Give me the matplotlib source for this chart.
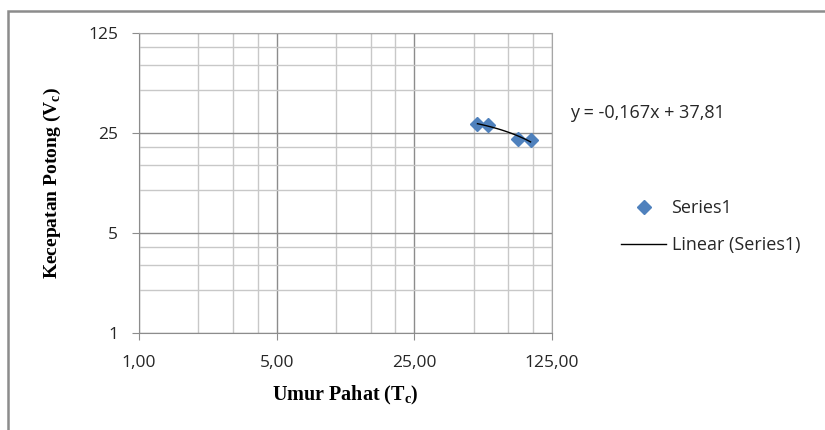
import numpy as np
import matplotlib
matplotlib.use('Agg')
import matplotlib.pyplot as plt
from matplotlib.ticker import LogLocator, FixedLocator, NullFormatter
from matplotlib.lines import Line2D
from matplotlib.patches import Rectangle

# data
umur_pahat = [52.3, 59.3, 84.2, 97.3]
kecepatan = [28.8, 28.6, 22.6, 22.4]
x_ticks = [1, 5, 25, 125]
x_tick_labels = ['1,00', '5,00', '25,00', '125,00']
y_ticks = [1, 5, 25, 125]
y_tick_labels = ['1', '5', '25', '125']
persamaan = 'y = -0,167x + 37,81'

plt.rcParams['font.family'] = ['Open Sans', 'DejaVu Sans']

fig = plt.figure(figsize=(8.25, 4.3), dpi=100)
W, H = 825, 430
ax = fig.add_axes([139 / W, 1 - 333 / H, 413 / W, 300 / H])

ax.set_xscale('log', base=5)
ax.set_yscale('log', base=5)
ax.set_xlim(1, 125)
ax.set_ylim(1, 125)

ax.xaxis.set_major_locator(FixedLocator(x_ticks))
ax.yaxis.set_major_locator(FixedLocator(y_ticks))
ax.set_xticklabels(x_tick_labels)
ax.set_yticklabels(y_tick_labels)
ax.xaxis.set_minor_locator(LogLocator(base=5, subs=[2, 3, 4]))
ax.yaxis.set_minor_locator(LogLocator(base=5, subs=[2, 3, 4]))
ax.xaxis.set_minor_formatter(NullFormatter())
ax.yaxis.set_minor_formatter(NullFormatter())

ax.grid(True, which='major', color='#8c8c8c', lw=1.0)
ax.grid(True, which='minor', color='#c8c8c8', lw=1.0)
ax.set_axisbelow(True)

for s in ['top', 'right']:
    ax.spines[s].set_color('#a6a6a6')
for s in ['left', 'bottom']:
    ax.spines[s].set_color('#8c8c8c')
ax.tick_params(which='major', direction='out', length=5, color='#8c8c8c',
               labelsize=12.5, labelcolor='#262626')
ax.tick_params(axis='y', which='major', pad=10)
ax.tick_params(axis='x', which='major', pad=11)
ax.tick_params(which='minor', length=0)

# data points
ax.plot(umur_pahat, kecepatan, 'D', color='#4f81bd', ms=7.5, mec='#4f81bd', zorder=3)

# linear trendline
a, b = np.polyfit(umur_pahat, kecepatan, 1)
xs = np.linspace(min(umur_pahat), max(umur_pahat), 50)
ax.plot(xs, a * xs + b, color='black', lw=1.0, zorder=4)

fig.text(570 / W, 1 - 113 / H, persamaan, fontsize=13, va='center', ha='left', color='#262626')

ax.set_xlabel(r'Umur Pahat (T$_\mathregular{c}$)', family='Liberation Serif',
              fontweight='bold', fontsize=14.5, labelpad=9)
ax.set_ylabel(r'Kecepatan Potong (V$_\mathregular{c}$)', family='Liberation Serif',
              fontweight='bold', fontsize=14, labelpad=18)

handles = [Line2D([], [], ls='none', marker='D', color='#4f81bd', ms=7),
           Line2D([], [], color='black', lw=1.0)]
fig.legend(handles, ['Series1', 'Linear (Series1)'], loc='upper left',
           bbox_to_anchor=(621 / W, 1 - 199 / H), frameon=False, fontsize=13,
           handlelength=2.5, handletextpad=0.3, labelspacing=1.05, borderpad=0,
           borderaxespad=0, labelcolor='#262626')

# chart border (only top and left visible)
fig.patches.append(Rectangle((8 / W, -0.2), 1.2, 1.2 - 11 / H, transform=fig.transFigure,
                             fill=False, ec='#8c8c8c', lw=1.8))

fig.savefig('out.png', dpi=100)
